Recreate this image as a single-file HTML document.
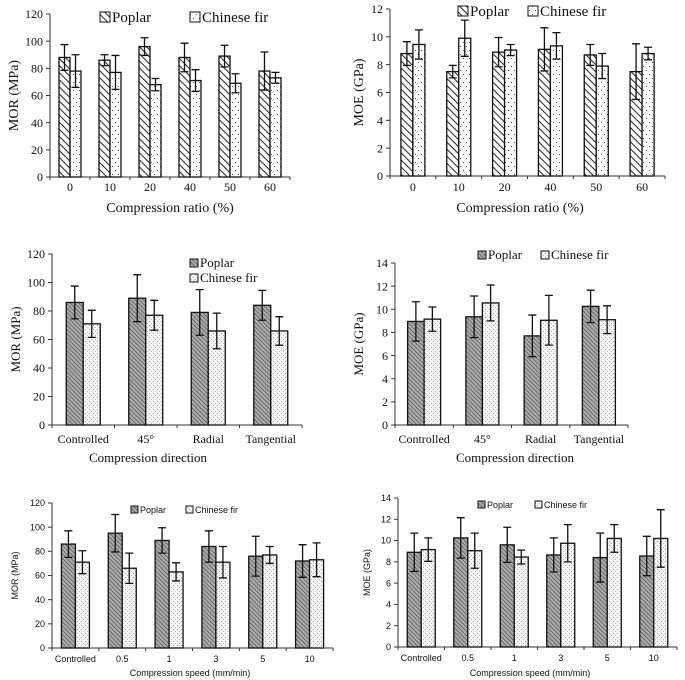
<!DOCTYPE html>
<html><head><meta charset="utf-8"><style>
body{margin:0;background:#fff}
svg{display:block}
text{font-family:"Liberation Serif",serif;fill:#111}
.s text{font-family:"Liberation Sans",sans-serif}
</style></head><body>
<svg id="c" width="685" height="680" viewBox="0 0 685 680">
<defs>
<pattern id="hatch" width="5" height="5" patternUnits="userSpaceOnUse" patternTransform="rotate(-45)"><rect width="5" height="5" fill="#fff"/><line x1="0" y1="0" x2="0" y2="5" stroke="#222" stroke-width="2"/></pattern>
<pattern id="dots" width="6" height="8" patternUnits="userSpaceOnUse"><rect width="6" height="8" fill="#fff"/><rect x="1" y="2" width="1" height="1" fill="#555"/><rect x="4" y="6" width="1" height="1" fill="#555"/></pattern>
<pattern id="dark" width="3" height="3" patternUnits="userSpaceOnUse" patternTransform="rotate(-45)"><rect width="3" height="3" fill="#aaa"/><line x1="0" y1="0" x2="0" y2="3" stroke="#555" stroke-width="1.4"/></pattern>
<pattern id="ldots" width="4" height="4" patternUnits="userSpaceOnUse"><rect width="4" height="4" fill="#f6f6f6"/><rect x="1" y="1" width="1" height="1" fill="#999"/><rect x="3" y="3" width="1" height="1" fill="#bbb"/></pattern>
</defs>
</svg>
<script>
// Panel 1: MOR vs compression ratio
const cat1 = ["0","10","20","40","50","60"];
const pop1 = [88,86,96,88,89,78];
const popErr1 = [9.5,4,6.5,10.5,8,14];
const fir1 = [78,77,68,71,69,73];
const firErr1 = [12,12.5,4.5,8,7,4];
const ticks1 = [0,20,40,60,80,100,120];
// Panel 2: MOE vs compression ratio
const cat2 = ["0","10","20","40","50","60"];
const pop2 = [8.8,7.5,8.9,9.1,8.7,7.5];
const popErr2 = [0.85,0.45,1.05,1.55,0.75,2.0];
const fir2 = [9.45,9.9,9.05,9.35,7.9,8.8];
const firErr2 = [1.05,1.3,0.4,0.95,0.9,0.45];
const ticks2 = [0,2,4,6,8,10,12];
// Panel 3: MOR vs direction
const cat3 = ["Controlled","45°","Radial","Tangential"];
const pop3 = [86,89,79,84];
const popErr3 = [11.5,16.5,16,10.5];
const fir3 = [71,77,66,66];
const firErr3 = [9.5,10.5,12.5,10];
const ticks3 = [0,20,40,60,80,100,120];
// Panel 4: MOE vs direction
const cat4 = ["Controlled","45°","Radial","Tangential"];
const pop4 = [8.95,9.35,7.7,10.25];
const popErr4 = [1.7,1.8,1.8,1.4];
const fir4 = [9.15,10.55,9.05,9.1];
const firErr4 = [1.05,1.55,2.15,1.2];
const ticks4 = [0,2,4,6,8,10,12,14];
// Panel 5: MOR vs speed
const cat5 = ["Controlled","0.5","1","3","5","10"];
const pop5 = [86,95,89,84,76,72];
const popErr5 = [11,15.5,10.5,13,16.5,13.5];
const fir5 = [71,66,63,71,77,73];
const firErr5 = [9.5,12.5,7.5,13,7,14];
const ticks5 = [0,20,40,60,80,100,120];
// Panel 6: MOE vs speed
const cat6 = ["Controlled","0.5","1","3","5","10"];
const pop6 = [8.9,10.25,9.6,8.65,8.4,8.55];
const popErr6 = [1.8,1.9,1.65,1.6,2.3,1.85];
const fir6 = [9.15,9.05,8.45,9.75,10.2,10.2];
const firErr6 = [1.1,1.65,0.65,1.75,1.3,2.7];
const ticks6 = [0,2,4,6,8,10,12,14];

const svg=document.getElementById('c');
const NS='http://www.w3.org/2000/svg';
function mk(tag,parent,at){const e=document.createElementNS(NS,tag);for(const k in at)e.setAttribute(k,at[k]);parent.appendChild(e);return e;}

function panel(p){
  const g=mk('g',svg,{});
  if(p.sans) g.setAttribute('class','s');
  
  
  const max=p.ticks[p.ticks.length-1];
  const y=v=>p.y0-(v/max)*(p.y0-p.yTop);
  const n=p.cats.length;
  const x=i=>p.x0+(i+0.5)*(p.x1-p.x0)/n;
  const ax=mk('line',g,{x1:p.x0,y1:p.yTop,x2:p.x0,y2:p.y0,stroke:'#333','stroke-width':1});
  
  
  const bx=mk('line',g,{x1:p.x0,y1:p.y0,x2:p.x1,y2:p.y0,stroke:'#333','stroke-width':1});
  
  
  p.ticks.forEach(t=>{
    mk('line',g,{x1:p.x0-4,y1:y(t),x2:p.x0,y2:y(t),stroke:'#333'});
    const tl=mk('text',g,{x:p.x0-7,y:y(t)+p.fs*0.35,'text-anchor':'end','font-size':p.fs});
    tl.textContent=t;
    
    
  });
  for(let i=0;i<=n;i++){const xx=p.x0+i*(p.x1-p.x0)/n;mk('line',g,{x1:xx,y1:p.y0,x2:xx,y2:p.y0+3,stroke:'#333'});}
  const series=[[p.pop,p.popErr,p.popFill,-1,'poplar'],[p.fir,p.firErr,p.firFill,0,'chinese-fir']];
  p.cats.forEach((c,i)=>{
    series.forEach(s=>{
      const v=s[0][i],e=s[1][i],bxp=x(i)+s[3]*p.bw;
      const r=mk('rect',g,{x:bxp,y:y(v),width:p.bw,height:p.y0-y(v),fill:'url(#'+s[2]+')',stroke:'#111','stroke-width':1.3});
      
      
      const cx=bxp+p.bw/2;
      const eb=mk('path',g,{d:`M${cx},${y(v+e)}V${y(v-e)}M${cx-4},${y(v+e)}H${cx+4}M${cx-4},${y(v-e)}H${cx+4}`,stroke:'#111','stroke-width':1.3,fill:'none'});
      
      
    });
    const tl=mk('text',g,{x:x(i),y:p.tickY,'text-anchor':'middle','font-size':p.fs});
    tl.textContent=c;
    
    
  });
  const xt=mk('text',g,{x:p.xtX,y:p.xtY,'text-anchor':'middle','font-size':p.tfs});
  xt.textContent=p.xtitle;
  
  
  const yt=mk('text',g,{x:0,y:0,'text-anchor':'middle','font-size':p.tfs,transform:`translate(${p.ytX},${(p.y0+p.yTop)/2}) rotate(-90)`});
  yt.textContent=p.ytitle;
  
  
  p.legend.forEach((L,k)=>{
    const lg=mk('g',g,{});
    
    
    mk('rect',lg,{x:L[0],y:L[1]-p.lb+1,width:p.lb,height:p.lb,fill:'url(#'+(k?p.firFill:p.popFill)+')',stroke:'#111','stroke-width':1});
    const t=mk('text',lg,{x:L[0]+p.lb+2,y:L[1]+1,'font-size':p.lfs});
    t.textContent=k?'Chinese fir':'Poplar';
  });
}
panel({name:'chart-mor-ratio',cats:cat1,pop:pop1,popErr:popErr1,fir:fir1,firErr:firErr1,ticks:ticks1,
 x0:50,x1:290,y0:177,yTop:14,bw:11,fs:12,tfs:14,lfs:15,lb:10,popFill:'hatch',firFill:'dots',tickY:191,
 xtitle:'Compression ratio (%)',xtX:170,xtY:212,ytitle:'MOR (MPa)',ytX:18,legend:[[100,21],[190,21]]});
panel({name:'chart-moe-ratio',cats:cat2,pop:pop2,popErr:popErr2,fir:fir2,firErr:firErr2,ticks:ticks2,
 x0:390,x1:665,y0:176,yTop:9,bw:12,fs:12,tfs:14,lfs:15,lb:10,popFill:'hatch',firFill:'dots',tickY:191,
 xtitle:'Compression ratio (%)',xtX:520,xtY:212,ytitle:'MOE (GPa)',ytX:363,legend:[[458,15],[528,15]]});
panel({name:'chart-mor-direction',cats:cat3,pop:pop3,popErr:popErr3,fir:fir3,firErr:firErr3,ticks:ticks3,
 x0:52,x1:302,y0:425,yTop:254,bw:17,fs:12,tfs:13,lfs:13,lb:8,popFill:'dark',firFill:'ldots',tickY:443,
 xtitle:'Compression direction',xtX:148,xtY:462,ytitle:'MOR (MPa)',ytX:20,legend:[[190,266],[190,281]]});
panel({name:'chart-moe-direction',cats:cat4,pop:pop4,popErr:popErr4,fir:fir4,firErr:firErr4,ticks:ticks4,
 x0:395,x1:628,y0:425,yTop:263,bw:16.5,fs:12,tfs:13,lfs:13,lb:8,popFill:'dark',firFill:'ldots',tickY:443,
 xtitle:'Compression direction',xtX:515,xtY:462,ytitle:'MOE (GPa)',ytX:363,legend:[[478,258],[541,258]]});
panel({name:'chart-mor-speed',sans:true,cats:cat5,pop:pop5,popErr:popErr5,fir:fir5,firErr:firErr5,ticks:ticks5,
 x0:52,x1:333,y0:648,yTop:503,bw:14,fs:9,tfs:9,lfs:9,lb:7,popFill:'dark',firFill:'ldots',tickY:662,
 xtitle:'Compression speed (mm/min)',xtX:190,xtY:676,ytitle:'MOR (MPa)',ytX:18,legend:[[131,512],[186,512]]});
panel({name:'chart-moe-speed',sans:true,cats:cat6,pop:pop6,popErr:popErr6,fir:fir6,firErr:firErr6,ticks:ticks6,
 x0:398,x1:677,y0:647,yTop:498,bw:14,fs:9,tfs:9,lfs:9,lb:7,popFill:'dark',firFill:'ldots',tickY:661,
 xtitle:'Compression speed (mm/min)',xtX:530,xtY:676,ytitle:'MOE (GPa)',ytX:370,legend:[[478,507],[535,507]]});
</script>
</body></html>
